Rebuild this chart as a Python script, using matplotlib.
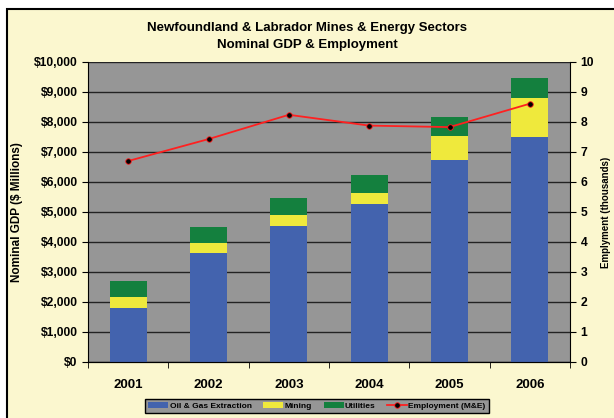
import matplotlib
matplotlib.use("Agg")
import matplotlib.pyplot as plt
import matplotlib.patches as mpatches
import numpy as np
from matplotlib.ticker import FuncFormatter

plt.rcParams["font.family"] = ["Liberation Sans", "DejaVu Sans"]
plt.rcParams["font.weight"] = "bold"

years = ["2001", "2002", "2003", "2004", "2005", "2006"]
oil_gas = [1810, 3640, 4520, 5260, 6730, 7500]
mining = [370, 330, 380, 370, 800, 1300]
utilities = [510, 520, 580, 610, 650, 670]
employment = [6.70, 7.43, 8.24, 7.88, 7.83, 8.61]

W, H = 614, 418
fig = plt.figure(figsize=(W / 100, H / 100), dpi=100, facecolor="white")

# cream chart frame, cut off at the right and bottom like the original
frame = mpatches.Rectangle((7 / W, -0.05), 1.1, 1.05 - 9 / H, transform=fig.transFigure,
                           facecolor="#FBF7CF", edgecolor="black", linewidth=1.5, zorder=-10)
fig.patches.append(frame)

ax = fig.add_axes([88 / W, (H - 362) / H, (570 - 88) / W, 300 / H])
ax.set_facecolor("#969696")

x = np.arange(len(years))
w = 0.46
bottom2 = np.array(oil_gas) + np.array(mining)
ax.bar(x, oil_gas, w, color="#4363AE", label="Oil & Gas Extraction", zorder=3)
ax.bar(x, mining, w, bottom=oil_gas, color="#EFE93C", label="Mining", zorder=3)
ax.bar(x, utilities, w, bottom=bottom2, color="#14803E", label="Utilities", zorder=3)

ax.set_xlim(-0.5, len(years) - 0.5)
ax.set_ylim(0, 10000)
ax.set_yticks(np.arange(0, 10001, 1000))
ax.yaxis.set_major_formatter(FuncFormatter(lambda v, p: "${:,.0f}".format(v)))
ax.grid(axis="y", color="#222222", linewidth=1.0, zorder=1)
ax.set_axisbelow(True)
ax.set_xticks(x)
ax.set_xticklabels(years, fontsize=9.5, fontweight="bold")
ax.set_xticks(np.arange(-0.5, len(years), 1), minor=True)
ax.tick_params(axis="x", which="major", length=0, pad=12)
ax.tick_params(axis="x", which="minor", length=4, direction="out")
ax.tick_params(axis="y", labelsize=8.7, length=4)
ax.spines["top"].set_visible(False)
ax.spines["right"].set_visible(False)
ax.set_ylabel("Nominal GDP ($ Millions)", fontsize=8.5, fontweight="bold", labelpad=8)

ax2 = ax.twinx()
ax2.plot(x, employment, color="#FF2020", linewidth=1.3, marker="o", markersize=4,
         markerfacecolor="black", markeredgecolor="#FF2020", markeredgewidth=0.6,
         label="Employment (M&E)", zorder=5)
ax2.set_ylim(0, 10)
ax2.set_yticks(range(0, 11))
ax2.tick_params(axis="y", labelsize=8.7, length=4)
ax2.spines["top"].set_visible(False)
ax2.spines["left"].set_visible(False)
ax2.set_ylabel("Emplyment (thousands)", fontsize=7, fontweight="bold", labelpad=5)

fig.text(0.5, 1 - 28 / H, "Newfoundland & Labrador Mines & Energy Sectors",
         ha="center", va="center", fontsize=9.5, fontweight="bold")
fig.text(0.5, 1 - 45 / H, "Nominal GDP & Employment",
         ha="center", va="center", fontsize=9.5, fontweight="bold")

h1, l1 = ax.get_legend_handles_labels()
h2, l2 = ax2.get_legend_handles_labels()
leg = fig.legend(h1 + h2, l1 + l2, ncol=4, loc="center",
                 bbox_to_anchor=(317 / W, 1 - 406 / H), fontsize=6,
                 frameon=True, fancybox=False, facecolor="#969696", edgecolor="black",
                 handlelength=2.4, handleheight=0.6, columnspacing=1.4,
                 borderpad=0.35, handletextpad=0.15, framealpha=1)
leg.get_frame().set_linewidth(1.0)
for t in leg.get_texts():
    t.set_fontweight("bold")

fig.savefig("out.png", dpi=100, facecolor="white")
